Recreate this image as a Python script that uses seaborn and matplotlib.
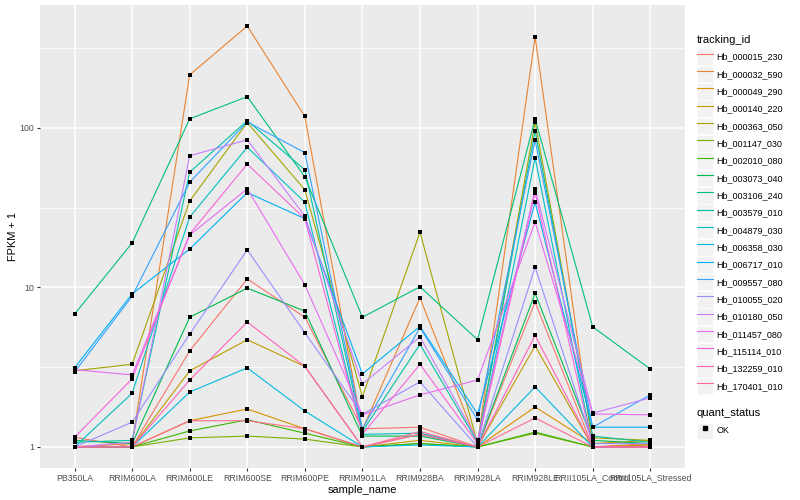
import matplotlib
matplotlib.use("Agg")
import matplotlib.pyplot as plt
import matplotlib.ticker as mticker
from matplotlib.lines import Line2D
from matplotlib.patches import Rectangle
from matplotlib.legend_handler import HandlerTuple
import numpy as np
import pandas as pd
import seaborn as sns

samples = ["PB350LA", "RRIM600LA", "RRIM600LE", "RRIM600SE", "RRIM600PE",
           "RRIM901LA", "RRIM928BA", "RRIM928LA", "RRIM928LE",
           "RRII105LA_Control", "RRII105LA_Stressed"]

# FPKM + 1 per sample, one list per gene
hb_000015_230 = [1.15, 1.0, 4.0, 11.3, 6.5, 1.3, 1.33, 1.0, 8.1, 1.0, 1.05]
hb_000032_590 = [1.0, 1.05, 215, 435, 118, 1.28, 8.6, 1.05, 372, 1.0, 1.03]
hb_000049_290 = [1.0, 1.0, 1.46, 1.73, 1.3, 1.0, 1.2, 1.0, 1.78, 1.05, 1.1]
hb_000140_220 = [1.0, 1.0, 3.0, 4.7, 3.2, 1.0, 1.1, 1.0, 4.3, 1.0, 1.03]
hb_000363_050 = [3.0, 3.3, 34.8, 108, 41, 2.06, 22.2, 1.05, 109, 1.14, 1.1]
hb_001147_030 = [1.0, 1.0, 1.14, 1.17, 1.12, 1.0, 1.05, 1.0, 1.22, 1.0, 1.0]
hb_002010_080 = [1.0, 1.0, 1.26, 1.48, 1.22, 1.0, 1.05, 1.0, 1.24, 1.0, 1.0]
hb_003073_040 = [1.1, 1.05, 6.5, 9.9, 7.1, 1.17, 1.17, 1.0, 9.2, 1.1, 1.05]
hb_003106_240 = [6.8, 19.0, 114, 157, 49.4, 6.5, 10.1, 4.7, 114, 5.66, 3.08]
hb_003579_010 = [1.07, 1.1, 52.8, 111, 54.6, 1.25, 4.4, 1.07, 96, 1.17, 1.07]
hb_004879_030 = [1.0, 2.17, 27.6, 75.6, 34.2, 1.2, 1.22, 1.0, 65, 1.0, 1.0]
hb_006358_030 = [1.0, 1.0, 2.21, 3.13, 1.68, 1.0, 1.03, 1.0, 2.38, 1.0, 1.0]
hb_006717_010 = [3.13, 9.1, 17.4, 39.3, 27, 2.87, 5.7, 1.61, 34.2, 1.33, 1.33]
hb_009557_080 = [2.95, 8.8, 45.7, 109, 70, 1.3, 5.6, 1.48, 84, 1.33, 2.12]
hb_010055_020 = [1.0, 1.43, 5.1, 17.2, 5.2, 1.6, 2.56, 1.0, 13.4, 1.05, 1.05]
hb_010180_050 = [1.0, 1.07, 66.9, 84.2, 28, 2.48, 4.9, 1.1, 41.5, 1.63, 2.03]
hb_011457_080 = [3.05, 2.83, 21.3, 41.5, 10.4, 1.59, 2.12, 2.63, 25.7, 1.61, 1.59]
hb_115114_010 = [1.15, 2.67, 21.6, 59.3, 27, 1.2, 3.3, 1.05, 39.3, 1.0, 1.0]
hb_132259_010 = [1.0, 1.0, 2.63, 6.07, 3.2, 1.0, 1.2, 1.0, 5.0, 1.0, 1.0]
hb_170401_010 = [1.0, 1.0, 1.46, 1.46, 1.3, 1.0, 1.25, 1.0, 1.52, 1.0, 1.0]

tracking_ids = ["Hb_000015_230", "Hb_000032_590", "Hb_000049_290", "Hb_000140_220",
                "Hb_000363_050", "Hb_001147_030", "Hb_002010_080", "Hb_003073_040",
                "Hb_003106_240", "Hb_003579_010", "Hb_004879_030", "Hb_006358_030",
                "Hb_006717_010", "Hb_009557_080", "Hb_010055_020", "Hb_010180_050",
                "Hb_011457_080", "Hb_115114_010", "Hb_132259_010", "Hb_170401_010"]
series = [hb_000015_230, hb_000032_590, hb_000049_290, hb_000140_220, hb_000363_050,
          hb_001147_030, hb_002010_080, hb_003073_040, hb_003106_240, hb_003579_010,
          hb_004879_030, hb_006358_030, hb_006717_010, hb_009557_080, hb_010055_020,
          hb_010180_050, hb_011457_080, hb_115114_010, hb_132259_010, hb_170401_010]

# ggplot2 default hue palette for 20 levels
gg_colors = ["#F8766D", "#EA8331", "#D89000", "#C09B00", "#A3A500", "#7CAE00", "#39B600",
             "#00BB4E", "#00BF7D", "#00C1A3", "#00BFC4", "#00BAE0", "#00B0F6", "#35A2FF",
             "#9590FF", "#C77CFF", "#E76BF3", "#FA62DB", "#FF62BC", "#FF6C91"]

rows = []
for tid, vals in zip(tracking_ids, series):
    for s, v in zip(samples, vals):
        rows.append((tid, s, v, "OK"))
df = pd.DataFrame(rows, columns=["tracking_id", "sample_name", "fpkm1", "quant_status"])
df["sample_name"] = pd.Categorical(df["sample_name"], categories=samples, ordered=True)

plt.rcParams['font.family'] = ['Liberation Sans', 'DejaVu Sans']

fig = plt.figure(figsize=(8, 5), dpi=100)
ax = fig.add_axes([0.05, 0.064, 0.806, 0.926])
ax.set_facecolor("#EBEBEB")

sns.lineplot(data=df, x="sample_name", y="fpkm1", hue="tracking_id",
             hue_order=tracking_ids, palette=gg_colors, linewidth=0.8,
             legend=False, ax=ax, zorder=2)
sns.scatterplot(data=df, x="sample_name", y="fpkm1", color="black", marker="s",
                s=9, linewidth=0, legend=False, ax=ax, zorder=3)

ax.set_yscale("log")
lo = np.log10(df["fpkm1"].min())
hi = np.log10(df["fpkm1"].max())
pad = 0.05 * (hi - lo)
ax.set_ylim(10 ** (lo - pad), 10 ** (hi + pad))
ax.set_xlim(-0.6, len(samples) - 0.4)

ax.yaxis.set_major_locator(mticker.FixedLocator([1, 10, 100]))
ax.yaxis.set_major_formatter(mticker.FixedFormatter(["1", "10", "100"]))
ax.yaxis.set_minor_locator(mticker.FixedLocator([10 ** 0.5, 10 ** 1.5, 10 ** 2.5]))
ax.yaxis.set_minor_formatter(mticker.NullFormatter())
ax.set_xticks(range(len(samples)))
ax.set_xticklabels(samples)

ax.set_axisbelow(True)
ax.grid(which="major", color="white", linewidth=1.1)
ax.grid(which="minor", axis="y", color="white", linewidth=0.55)
for sp in ax.spines.values():
    sp.set_visible(False)
ax.tick_params(which="major", length=2, width=0.8, color="#333333",
               labelcolor="#4D4D4D", labelsize=6.3, pad=2)
ax.tick_params(which="minor", length=0)

ax.set_xlabel("sample_name", fontsize=7.9, labelpad=2)
ax.set_ylabel("FPKM + 1", fontsize=7.9, labelpad=1)

# legend keys: grey box with the coloured line on top, like ggplot
def key_box():
    return Rectangle((0, 0), 1, 1, facecolor="#F2F2F2", edgecolor="white", linewidth=0.5)

tuple_map = {tuple: HandlerTuple(ndivide=1, pad=0)}
handles = [(key_box(), Line2D([0], [0], color=c, lw=0.8)) for c in gg_colors]
leg1 = fig.legend(handles, tracking_ids, title="tracking_id", loc="upper left",
                  bbox_to_anchor=(0.871, 0.930), frameon=False, fontsize=6.5,
                  title_fontsize=8, alignment="left", handlelength=1.8, handleheight=2.5,
                  handletextpad=0.35, labelspacing=0.05, borderpad=0, borderaxespad=0,
                  handler_map=tuple_map)
leg1._legend_box.sep = 2.3
ok_handle = [(key_box(), Line2D([0], [0], color="black", marker="s", markersize=2.4,
                                linestyle="none"))]
leg2 = fig.legend(ok_handle, ["OK"], title="quant_status", loc="upper left",
                  bbox_to_anchor=(0.871, 1 - 408 / 500), frameon=False, fontsize=6.5,
                  title_fontsize=8, alignment="left", handlelength=1.8, handleheight=2.37,
                  handletextpad=0.35, borderpad=0, borderaxespad=0,
                  handler_map=tuple_map)

fig.savefig("out.png", dpi=100)
